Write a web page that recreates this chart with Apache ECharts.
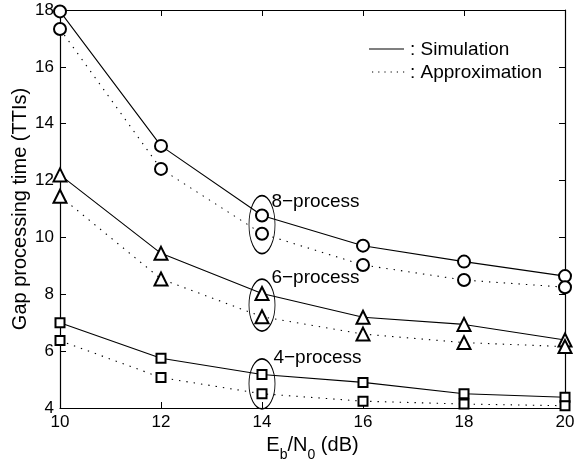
<!DOCTYPE html>
<html><head><meta charset="utf-8">
<script src="https://cdn.jsdelivr.net/npm/echarts@6/dist/echarts.min.js"></script>
<style>html,body{margin:0;padding:0;background:#fff}#c{width:575px;height:460px}</style>
</head><body><div id="c"></div>
<script>
// Eb/N0 (dB)
const snr = [10, 12, 14, 16, 18, 20];
// Simulation / approximation, gap processing time (TTIs)
const sim8 = [17.95, 13.22, 10.77, 9.71, 9.15, 8.64];
const app8 = [17.33, 12.41, 10.13, 9.03, 8.50, 8.25];
const sim6 = [12.20, 9.44, 8.03, 7.19, 6.94, 6.39];
const app6 = [11.45, 8.54, 7.21, 6.60, 6.30, 6.16];
const sim4 = [7.00, 5.75, 5.18, 4.90, 4.50, 4.38];
const app4 = [6.37, 5.07, 4.50, 4.24, 4.14, 4.08];
// group annotations (ellipses drawn at Eb/N0 = 14)
const groupNames = ['8\u2212process', '6\u2212process', '4\u2212process'];
const ellipseX = [14, 14, 14];
const ellipseY = [10.45, 7.62, 4.85];
const legendNames = [': Simulation', ': Approximation'];

const FONT = '"Liberation Sans", Arial, Helvetica, sans-serif';
const chart = echarts.init(document.getElementById('c'), null, {renderer: 'canvas'});

function pairs(ys) { return snr.map((x, i) => [x, ys[i]]); }
function lineSeries(name, ys, symbol, size, dotted) {
  return {
    name, type: 'line', data: pairs(ys), symbol, symbolSize: size,
    showSymbol: true, z: 3,
    lineStyle: {color: '#000', width: 1.1, type: dotted ? [1.4, 6] : 'solid'},
    itemStyle: {color: '#000', borderColor: '#000', borderWidth: 1.1},
    emphasis: {disabled: true}, animation: false
  };
}
const ellipseSizes = [[26, 58], [26, 52], [26, 50]];
const labelOffsets = [[-4, -23], [-4, -27], [-2, -26]];

function axis(extra) {
  return Object.assign({
    type: 'value',
    axisLine: {show: true, onZero: false, lineStyle: {color: '#000', width: 1.2}},
    axisTick: {show: true, inside: true, length: 6, lineStyle: {color: '#000', width: 1}},
    splitLine: {show: false}
  }, extra);
}

const option = {
  animation: false,
  backgroundColor: '#fff',
  grid: {left: 60, right: 10, top: 10, bottom: 52, containLabel: false, outerBoundsMode: 'none'},
  xAxis: [
    axis({
      min: 10, max: 20, interval: 2, position: 'bottom',
      axisLabel: {color: '#000', fontSize: 17, fontFamily: FONT, margin: 6},
      name: '{n|E}{s|b}{n|/N}{s|0}{n| (dB)}', nameLocation: 'middle', nameGap: 24,
      nameTextStyle: {
        color: '#000', fontFamily: FONT,
        rich: {
          n: {fontSize: 20, fontFamily: FONT, color: '#000', lineHeight: 22, verticalAlign: 'top'},
          s: {fontSize: 14, fontFamily: FONT, color: '#000', lineHeight: 22, padding: [12, 0, 0, 0], verticalAlign: 'top'}
        }
      }
    }),
    axis({
      min: 10, max: 20, interval: 2, position: 'top',
      axisLabel: {show: false}
    })
  ],
  yAxis: [
    axis({
      min: 4, max: 18, interval: 2, position: 'left',
      axisLabel: {color: '#000', fontSize: 17, fontFamily: FONT, margin: 6},
      name: 'Gap processing time (TTIs)', nameLocation: 'middle', nameGap: 30,
      nameMoveOverlap: false,
      nameTextStyle: {color: '#000', fontSize: 20, fontFamily: FONT}
    }),
    axis({
      min: 4, max: 18, interval: 2, position: 'right',
      axisLabel: {show: false}
    })
  ],
  series: [
    lineSeries('sim8', sim8, 'emptyCircle', 12, false),
    lineSeries('app8', app8, 'emptyCircle', 12, true),
    lineSeries('sim6', sim6, 'emptyTriangle', 13, false),
    lineSeries('app6', app6, 'emptyTriangle', 13, true),
    lineSeries('sim4', sim4, 'emptyRect', 9, false),
    lineSeries('app4', app4, 'emptyRect', 9, true),
    {
      name: 'groups', type: 'scatter', z: 4, animation: false,
      data: ellipseX.map((x, i) => ({
        value: [x, ellipseY[i]], symbolSize: ellipseSizes[i],
        label: {
          show: true, formatter: groupNames[i], position: 'right',
          distance: 0, offset: labelOffsets[i],
          color: '#000', fontSize: 19, fontFamily: FONT
        }
      })),
      symbol: 'circle',
      itemStyle: {color: 'rgba(0,0,0,0)', borderColor: '#000', borderWidth: 1.2, opacity: 1},
      emphasis: {disabled: true}
    }
  ],
  graphic: [
    {type: 'line', shape: {x1: 369, y1: 49, x2: 404, y2: 49}, style: {stroke: '#000', lineWidth: 1.1}},
    {type: 'line', shape: {x1: 372, y1: 72, x2: 405, y2: 72}, style: {stroke: '#000', lineWidth: 1.1, lineDash: [1.2, 5]}},
    {type: 'text', x: 410, y: 50, style: {text: legendNames[0], fill: '#000', font: '19px ' + FONT, verticalAlign: 'middle'}},
    {type: 'text', x: 410, y: 73, style: {text: legendNames[1], fill: '#000', font: '19px ' + FONT, verticalAlign: 'middle'}}
  ]
};
chart.setOption(option);
</script>
</body></html>
